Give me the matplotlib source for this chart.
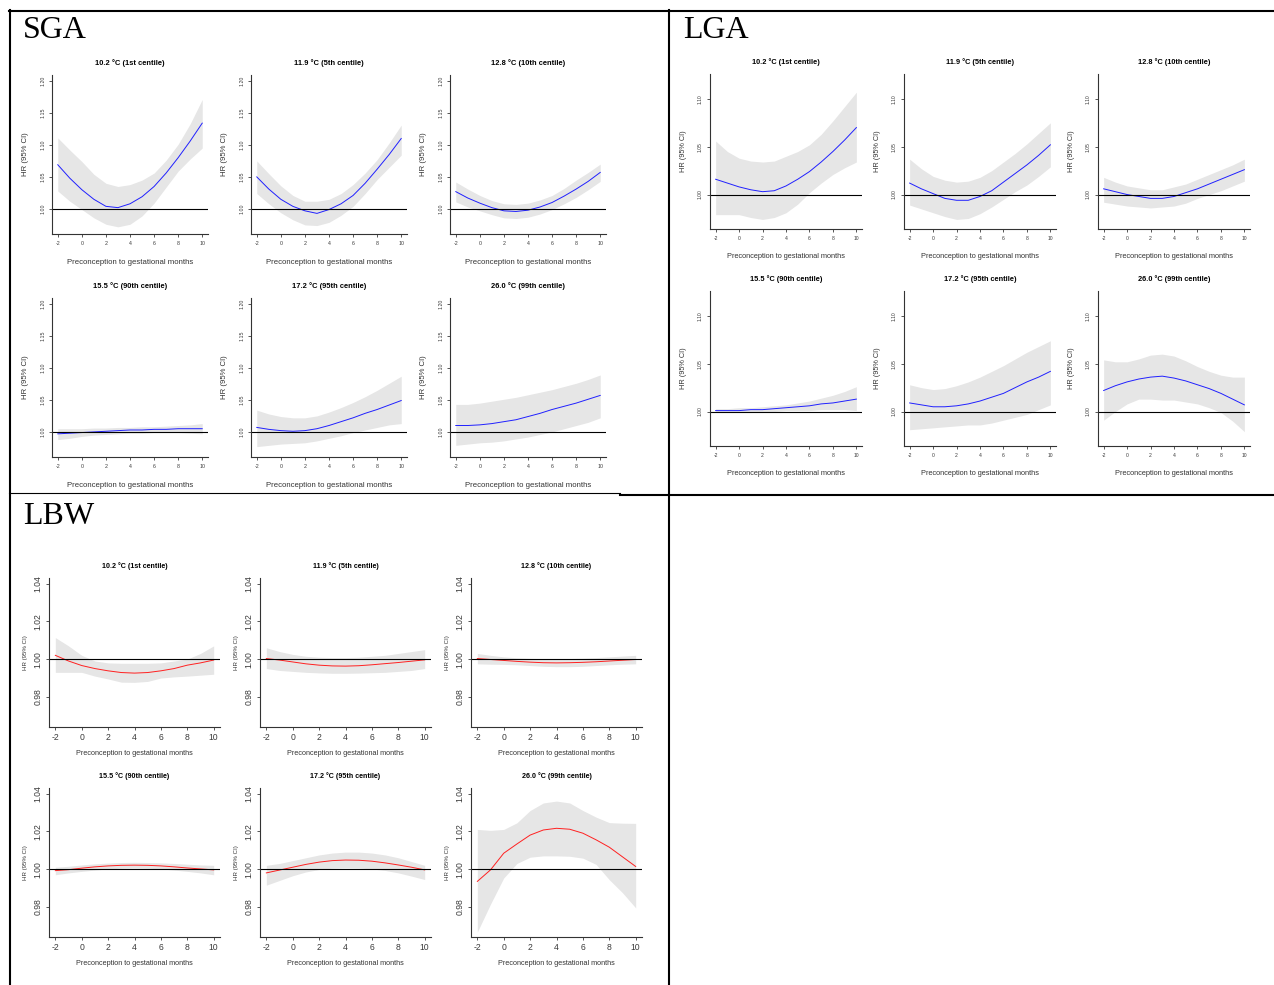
import matplotlib.pyplot as plt
from matplotlib.lines import Line2D

W, H = 1274, 985

plt.rcParams["font.family"] = ["Liberation Sans", "DejaVu Sans"]

months = [-2, -1, 0, 1, 2, 3, 4, 5, 6, 7, 8, 9, 10]
panel_titles = [
    "10.2 °C (1st centile)", "11.9 °C (5th centile)", "12.8 °C (10th centile)",
    "15.5 °C (90th centile)", "17.2 °C (95th centile)", "26.0 °C (99th centile)",
]

# SGA: hazard ratio with 95% CI, one row per temperature
sga_est = [
    [1.069, 1.048, 1.030, 1.015, 1.004, 1.002, 1.008, 1.019, 1.035, 1.056, 1.080, 1.106, 1.134],
    [1.050, 1.031, 1.015, 1.004, 0.997, 0.993, 0.999, 1.008, 1.021, 1.040, 1.062, 1.085, 1.110],
    [1.027, 1.017, 1.009, 1.002, 0.997, 0.996, 0.998, 1.003, 1.010, 1.020, 1.031, 1.043, 1.057],
    [0.997, 0.998, 0.999, 1.000, 1.001, 1.002, 1.003, 1.003, 1.004, 1.004, 1.005, 1.005, 1.005],
    [1.007, 1.004, 1.002, 1.001, 1.002, 1.005, 1.010, 1.016, 1.022, 1.029, 1.035, 1.042, 1.049],
    [1.010, 1.010, 1.011, 1.013, 1.016, 1.019, 1.024, 1.029, 1.035, 1.040, 1.045, 1.051, 1.057],
]
sga_lo = [
    [1.028, 1.012, 0.999, 0.986, 0.976, 0.972, 0.976, 0.989, 1.009, 1.034, 1.059, 1.078, 1.095],
    [1.024, 1.008, 0.994, 0.983, 0.975, 0.974, 0.979, 0.990, 1.004, 1.024, 1.046, 1.065, 1.084],
    [1.011, 1.003, 0.997, 0.991, 0.986, 0.985, 0.987, 0.992, 0.999, 1.008, 1.018, 1.030, 1.043],
    [0.988, 0.990, 0.993, 0.995, 0.996, 0.997, 0.998, 0.998, 0.999, 0.999, 0.999, 0.998, 0.997],
    [0.977, 0.979, 0.981, 0.982, 0.983, 0.986, 0.990, 0.994, 0.999, 1.003, 1.007, 1.011, 1.013],
    [0.979, 0.981, 0.983, 0.984, 0.986, 0.989, 0.992, 0.996, 1.000, 1.005, 1.010, 1.015, 1.022],
]
sga_hi = [
    [1.111, 1.092, 1.074, 1.054, 1.040, 1.035, 1.038, 1.045, 1.056, 1.076, 1.101, 1.133, 1.171],
    [1.075, 1.055, 1.036, 1.021, 1.012, 1.012, 1.015, 1.024, 1.038, 1.056, 1.077, 1.103, 1.131],
    [1.042, 1.031, 1.021, 1.013, 1.008, 1.007, 1.009, 1.014, 1.021, 1.032, 1.045, 1.057, 1.070],
    [1.005, 1.005, 1.005, 1.006, 1.006, 1.007, 1.007, 1.008, 1.008, 1.009, 1.010, 1.011, 1.013],
    [1.034, 1.028, 1.024, 1.022, 1.022, 1.025, 1.031, 1.038, 1.046, 1.055, 1.065, 1.076, 1.087],
    [1.043, 1.043, 1.045, 1.048, 1.051, 1.054, 1.058, 1.062, 1.066, 1.071, 1.076, 1.082, 1.089],
]

# LGA
lga_est = [
    [1.016, 1.012, 1.008, 1.005, 1.003, 1.004, 1.009, 1.016, 1.024, 1.034, 1.045, 1.057, 1.070],
    [1.012, 1.006, 1.001, 0.996, 0.994, 0.994, 0.998, 1.004, 1.013, 1.022, 1.031, 1.041, 1.052],
    [1.006, 1.003, 1.000, 0.998, 0.996, 0.996, 0.998, 1.002, 1.006, 1.011, 1.016, 1.021, 1.026],
    [1.001, 1.001, 1.001, 1.002, 1.002, 1.003, 1.004, 1.005, 1.006, 1.008, 1.009, 1.011, 1.013],
    [1.009, 1.007, 1.005, 1.005, 1.006, 1.008, 1.011, 1.015, 1.019, 1.025, 1.031, 1.036, 1.042],
    [1.022, 1.027, 1.031, 1.034, 1.036, 1.037, 1.035, 1.032, 1.028, 1.024, 1.019, 1.013, 1.007],
]
lga_lo = [
    [0.979, 0.979, 0.979, 0.976, 0.974, 0.976, 0.981, 0.990, 1.002, 1.012, 1.021, 1.028, 1.034],
    [0.989, 0.985, 0.981, 0.977, 0.974, 0.975, 0.980, 0.987, 0.995, 1.003, 1.010, 1.019, 1.029],
    [0.992, 0.990, 0.988, 0.987, 0.986, 0.987, 0.988, 0.991, 0.996, 1.000, 1.004, 1.009, 1.014],
    [0.999, 0.999, 0.999, 0.999, 1.000, 1.000, 1.001, 1.001, 1.001, 1.002, 1.002, 1.002, 1.001],
    [0.981, 0.982, 0.983, 0.984, 0.985, 0.986, 0.986, 0.988, 0.991, 0.994, 0.997, 1.002, 1.007],
    [0.991, 1.000, 1.008, 1.013, 1.013, 1.012, 1.012, 1.010, 1.008, 1.004, 0.999, 0.990, 0.979],
]
lga_hi = [
    [1.056, 1.045, 1.038, 1.035, 1.034, 1.035, 1.040, 1.045, 1.052, 1.063, 1.077, 1.092, 1.107],
    [1.037, 1.027, 1.019, 1.015, 1.013, 1.014, 1.018, 1.025, 1.034, 1.043, 1.053, 1.064, 1.075],
    [1.018, 1.013, 1.009, 1.007, 1.005, 1.005, 1.008, 1.011, 1.016, 1.021, 1.026, 1.031, 1.037],
    [1.003, 1.003, 1.004, 1.004, 1.005, 1.006, 1.007, 1.009, 1.011, 1.014, 1.017, 1.021, 1.026],
    [1.028, 1.025, 1.023, 1.024, 1.027, 1.031, 1.036, 1.042, 1.048, 1.055, 1.062, 1.068, 1.074],
    [1.054, 1.052, 1.052, 1.055, 1.059, 1.060, 1.058, 1.053, 1.047, 1.042, 1.038, 1.036, 1.036],
]

# LBW
lbw_est = [
    [1.0020, 0.9990, 0.9966, 0.9950, 0.9938, 0.9929, 0.9926, 0.9929, 0.9938, 0.9950, 0.9968, 0.9980, 0.9995],
    [1.0003, 0.9995, 0.9985, 0.9975, 0.9968, 0.9964, 0.9963, 0.9965, 0.9970, 0.9976, 0.9982, 0.9989, 0.9996],
    [1.0003, 0.9998, 0.9993, 0.9988, 0.9984, 0.9981, 0.9980, 0.9981, 0.9983, 0.9986, 0.9990, 0.9994, 0.9998],
    [0.9992, 0.9997, 1.0005, 1.0012, 1.0017, 1.0020, 1.0021, 1.0020, 1.0017, 1.0012, 1.0006, 1.0001, 0.9996],
    [0.9980, 0.9995, 1.0010, 1.0025, 1.0037, 1.0045, 1.0048, 1.0047, 1.0042, 1.0033, 1.0022, 1.0010, 0.9996],
    [0.9935, 0.9996, 1.0084, 1.0133, 1.0180, 1.0207, 1.0216, 1.0211, 1.0190, 1.0155, 1.0116, 1.0065, 1.0014],
]
lbw_lo = [
    [0.9930, 0.9930, 0.9930, 0.9910, 0.9895, 0.9878, 0.9877, 0.9882, 0.9900, 0.9906, 0.9910, 0.9915, 0.9920],
    [0.9950, 0.9940, 0.9935, 0.9930, 0.9927, 0.9925, 0.9925, 0.9926, 0.9928, 0.9930, 0.9935, 0.9940, 0.9950],
    [0.9975, 0.9973, 0.9972, 0.9970, 0.9966, 0.9962, 0.9960, 0.9960, 0.9962, 0.9966, 0.9970, 0.9973, 0.9975],
    [0.9970, 0.9980, 0.9988, 0.9995, 1.0001, 1.0005, 1.0006, 1.0005, 1.0001, 0.9995, 0.9988, 0.9980, 0.9970],
    [0.9915, 0.9940, 0.9965, 0.9985, 0.9998, 1.0005, 1.0007, 1.0006, 1.0001, 0.9993, 0.9980, 0.9963, 0.9945],
    [0.9667, 0.9815, 0.9953, 1.0030, 1.0063, 1.0070, 1.0070, 1.0068, 1.0058, 1.0025, 0.9944, 0.9875, 0.9795],
]
lbw_hi = [
    [1.0114, 1.0070, 1.0020, 0.9990, 0.9980, 0.9978, 0.9978, 0.9978, 0.9980, 0.9990, 1.0000, 1.0030, 1.0070],
    [1.0060, 1.0040, 1.0025, 1.0015, 1.0010, 1.0008, 1.0008, 1.0010, 1.0015, 1.0020, 1.0030, 1.0040, 1.0050],
    [1.0030, 1.0020, 1.0012, 1.0007, 1.0004, 1.0002, 1.0002, 1.0003, 1.0005, 1.0008, 1.0012, 1.0016, 1.0020],
    [1.0010, 1.0015, 1.0022, 1.0028, 1.0032, 1.0035, 1.0036, 1.0035, 1.0033, 1.0030, 1.0026, 1.0022, 1.0020],
    [1.0020, 1.0030, 1.0045, 1.0060, 1.0075, 1.0085, 1.0090, 1.0090, 1.0085, 1.0075, 1.0060, 1.0040, 1.0020],
    [1.0210, 1.0205, 1.0210, 1.0245, 1.0310, 1.0350, 1.0360, 1.0350, 1.0310, 1.0275, 1.0246, 1.0243, 1.0242],
]

x_ticks = [-2, 0, 2, 4, 6, 8, 10]

# pixel layout of each 2x3 block: first axes box, column/row steps, text sizes
layouts = {
    "SGA": dict(left=52, top=75, w=156, h=159, dx=199, dy=223, ylim=(0.97, 1.20),
                yticks=[1.00, 1.05, 1.10, 1.15, 1.20], tick_fs=3.8, title_fs=5.4, lab_fs=5.6,
                ylab_fs=5.6, ylab_x=-0.15, xlab_y=-0.155, color="#2020ff", label_xy=(23, 30)),
    "LGA": dict(left=710, top=74, w=152, h=155, dx=194, dy=217, ylim=(0.97, 1.12),
                yticks=[1.00, 1.05, 1.10], tick_fs=3.6, title_fs=5.3, lab_fs=5.3,
                ylab_fs=5.3, ylab_x=-0.15, xlab_y=-0.155, color="#2020ff", label_xy=(683, 30)),
    "LBW": dict(left=49, top=578, w=171, h=149, dx=211, dy=210, ylim=(0.967, 1.04),
                yticks=[0.98, 1.00, 1.02, 1.04], tick_fs=6.2, title_fs=5.1, lab_fs=5.2,
                ylab_fs=4.4, ylab_x=-0.125, xlab_y=-0.155, color="#ff2020", label_xy=(23, 516)),
}
outcomes = {
    "SGA": (sga_est, sga_lo, sga_hi),
    "LGA": (lga_est, lga_lo, lga_hi),
    "LBW": (lbw_est, lbw_lo, lbw_hi),
}


def add_axes_px(fig, left, top, width, height):
    return fig.add_axes([left / W, 1 - (top + height) / H, width / W, height / H])


def draw_block(fig, name):
    lay = layouts[name]
    est, lo, hi = outcomes[name]
    lx, ly = lay["label_xy"]
    fig.text(lx / W, 1 - ly / H, name, family=["Liberation Serif", "DejaVu Serif"],
             fontsize=23, ha="left", va="center")
    for k in range(6):
        row, col = divmod(k, 3)
        ax = add_axes_px(fig, lay["left"] + col * lay["dx"], lay["top"] + row * lay["dy"],
                         lay["w"], lay["h"])
        ax.fill_between(months, lo[k], hi[k], color="#e6e6e6", linewidth=0)
        ax.plot(months, est[k], color=lay["color"], linewidth=0.7)
        ax.axhline(1.0, color="black", linewidth=0.8)

        y0, y1 = lay["ylim"]
        pad = (y1 - y0) * 0.04
        ax.set_ylim(y0 - pad, y1 + pad)
        ax.set_xlim(-2.48, 10.48)
        ax.set_xticks(x_ticks)
        ax.set_xticklabels([str(t) for t in x_ticks])
        ax.set_yticks(lay["yticks"])
        ax.set_yticklabels([f"{t:.2f}" for t in lay["yticks"]], rotation=90, va="center")
        ax.tick_params(labelsize=lay["tick_fs"], length=2, width=0.6, colors="#3a3a3a",
                       pad=2.5 if name == "LBW" else 3.0)
        for side in ("top", "right"):
            ax.spines[side].set_visible(False)
        for side in ("left", "bottom"):
            ax.spines[side].set_linewidth(0.8)
            ax.spines[side].set_color("#333333")

        ax.text(0.5, 1 + 12 / lay["h"], panel_titles[k], transform=ax.transAxes,
                ha="center", va="center", fontsize=lay["title_fs"], fontweight="bold")
        ax.set_xlabel("Preconception to gestational months", fontsize=lay["lab_fs"],
                      color="#333333")
        ax.xaxis.set_label_coords(0.5, lay["xlab_y"])
        ax.set_ylabel("HR (95% CI)", fontsize=lay["ylab_fs"], color="#333333")
        ax.yaxis.set_label_coords(lay["ylab_x"], 0.5)


def frame_line(fig, x0, y0, x1, y1, lw):
    fig.add_artist(Line2D([x0 / W, x1 / W], [1 - y0 / H, 1 - y1 / H],
                          transform=fig.transFigure, color="black", linewidth=lw))


fig = plt.figure(figsize=(W / 100, H / 100), dpi=100)
fig.patch.set_facecolor("white")

for block in ("SGA", "LGA", "LBW"):
    draw_block(fig, block)

# table borders around the three blocks
frame_line(fig, 9, 10.5, 1274, 10.5, 1.5)
frame_line(fig, 9.5, 10, 9.5, 985, 1.5)
frame_line(fig, 669, 10, 669, 985, 1.5)
frame_line(fig, 9, 493, 620, 493, 0.8)
frame_line(fig, 620, 494.5, 1274, 494.5, 1.5)

fig.savefig("out.png", dpi=100)
